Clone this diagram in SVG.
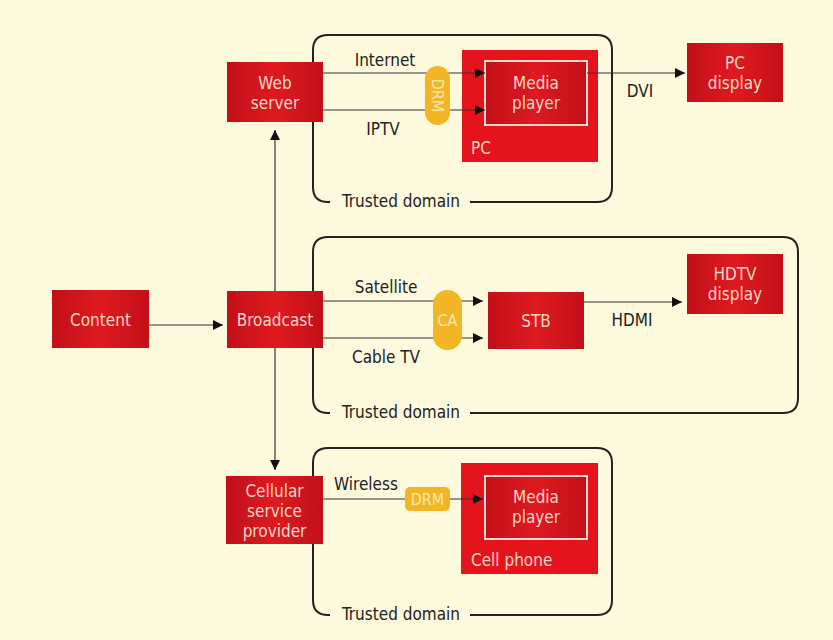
<svg xmlns="http://www.w3.org/2000/svg" width="833" height="640" viewBox="0 0 833 640">
<defs>
<linearGradient id="rg" x1="0" y1="0" x2="1" y2="0">
<stop offset="0" stop-color="#c20f18"/>
<stop offset="0.5" stop-color="#de1a20"/>
<stop offset="1" stop-color="#c20f18"/>
</linearGradient>
<marker id="ah" viewBox="0 0 10 10" refX="10" refY="5" markerWidth="10" markerHeight="10" markerUnits="userSpaceOnUse" orient="auto">
<path d="M0,0 L10,5 L0,10 z" fill="#111"/>
</marker>
<style>
.box{fill:url(#rg);}
.dev{fill:#e5141c;}
.mp{fill:url(#rg);stroke:#f8d8d0;stroke-width:2;}
.bt{font-family:"DejaVu Sans Condensed","Liberation Sans",sans-serif;font-size:17px;fill:#f8d6c8;text-anchor:middle;}
.bs{font-family:"DejaVu Sans Condensed","Liberation Sans",sans-serif;font-size:17px;fill:#f8d6c8;text-anchor:start;}
.lt{font-family:"DejaVu Sans Condensed","Liberation Sans",sans-serif;font-size:17px;fill:#222;}
.pill{fill:#f2b526;}
.pt{font-family:"DejaVu Sans Condensed","Liberation Sans",sans-serif;font-size:16px;fill:#fce9b0;text-anchor:middle;}
.dom{fill:none;stroke:#222;stroke-width:2;}
.la{fill:none;stroke:#333;stroke-width:1.2;marker-end:url(#ah);}
</style>
</defs>
<rect width="833" height="640" fill="#fcf9dd"/>

<g id="domains">
<path class="dom" d="M330,202 L328,202 Q313,202 313,187 L313,50 Q313,35 328,35 L597,35 Q612,35 612,50 L612,187 Q612,202 597,202 L470,202"/>
<path class="dom" d="M330,413 L328,413 Q313,413 313,398 L313,252 Q313,237 328,237 L783,237 Q798,237 798,252 L798,398 Q798,413 783,413 L470,413"/>
<path class="dom" d="M330,615 L328,615 Q313,615 313,600 L313,463 Q313,448 328,448 L597,448 Q612,448 612,463 L612,600 Q612,615 597,615 L470,615"/>
<text class="lt" x="342" y="207">Trusted domain</text>
<text class="lt" x="342" y="418">Trusted domain</text>
<text class="lt" x="342" y="620">Trusted domain</text>
</g>

<g id="content">
<rect class="box" x="52" y="290" width="97" height="58"/>
<text class="bt" x="100.5" y="326">Content</text>
</g>
<g id="broadcast">
<rect class="box" x="227" y="291" width="96" height="57"/>
<text class="bt" x="275" y="326">Broadcast</text>
</g>
<g id="web-server">
<rect class="box" x="227" y="62" width="96" height="60"/>
<text class="bt" x="275" y="89">Web</text>
<text class="bt" x="275" y="109">server</text>
</g>
<g id="cellular">
<rect class="box" x="226" y="476" width="97" height="68"/>
<text class="bt" x="274.5" y="497">Cellular</text>
<text class="bt" x="274.5" y="517">service</text>
<text class="bt" x="274.5" y="537">provider</text>
</g>
<g id="pc">
<rect class="dev" x="462" y="50" width="136" height="112"/>
<rect class="mp" x="485" y="61" width="102" height="64"/>
<text class="bt" x="536" y="89">Media</text>
<text class="bt" x="536" y="109">player</text>
<text class="bs" x="471" y="154">PC</text>
</g>
<g id="pc-display">
<rect class="box" x="687" y="43" width="96" height="59"/>
<text class="bt" x="735" y="69">PC</text>
<text class="bt" x="735" y="89">display</text>
</g>
<g id="stb">
<rect class="box" x="488" y="292" width="96" height="57"/>
<text class="bt" x="536" y="327">STB</text>
</g>
<g id="hdtv-display">
<rect class="box" x="687" y="254" width="96" height="60"/>
<text class="bt" x="735" y="280">HDTV</text>
<text class="bt" x="735" y="300">display</text>
</g>
<g id="cell-phone">
<rect class="dev" x="461" y="463" width="137" height="111"/>
<rect class="mp" x="485" y="476" width="102" height="63"/>
<text class="bt" x="536" y="503">Media</text>
<text class="bt" x="536" y="523">player</text>
<text class="bs" x="471" y="566">Cell phone</text>
</g>

<g id="connectors">
<line class="la" x1="149" y1="325" x2="223" y2="325"/>
<line class="la" x1="275" y1="291" x2="275" y2="130"/>
<line class="la" x1="275" y1="348" x2="275" y2="470"/>
<line class="la" x1="323" y1="73" x2="485" y2="73"/>
<line class="la" x1="323" y1="110" x2="485" y2="110"/>
<line class="la" x1="587" y1="73" x2="685" y2="73"/>
<line class="la" x1="323" y1="301" x2="483" y2="301"/>
<line class="la" x1="323" y1="338" x2="483" y2="338"/>
<line class="la" x1="584" y1="302" x2="682" y2="302"/>
<line class="la" x1="323" y1="499" x2="483" y2="499"/>
<text class="lt" x="385" y="66" text-anchor="middle">Internet</text>
<text class="lt" x="383" y="135" text-anchor="middle">IPTV</text>
<text class="lt" x="640" y="97" text-anchor="middle">DVI</text>
<text class="lt" x="386" y="293" text-anchor="middle">Satellite</text>
<text class="lt" x="386" y="363" text-anchor="middle">Cable TV</text>
<text class="lt" x="632" y="326" text-anchor="middle">HDMI</text>
<text class="lt" x="366" y="490" text-anchor="middle">Wireless</text>
</g>

<g id="drm-pc">
<rect class="pill" x="425" y="66" width="25" height="59" rx="12.5"/>
<text class="pt" transform="translate(437.5,95.5) rotate(90)" y="5.5">DRM</text>
</g>
<g id="ca">
<rect class="pill" x="433" y="290" width="29" height="60" rx="14.5"/>
<text class="pt" x="447.5" y="326">CA</text>
</g>
<g id="drm-cell">
<rect class="pill" x="405" y="487" width="45" height="24" rx="5"/>
<text class="pt" x="427.5" y="505">DRM</text>
</g>
</svg>
